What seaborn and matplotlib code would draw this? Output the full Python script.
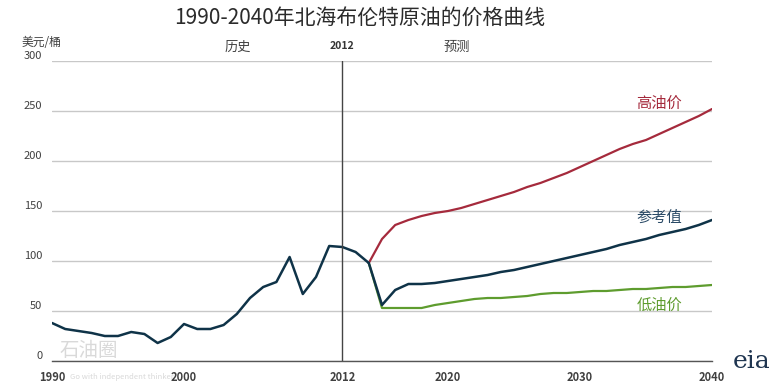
import numpy as np
import pandas as pd
import matplotlib
matplotlib.use("Agg")
import matplotlib.pyplot as plt
import seaborn as sns

# ---- data (2012 dollars / barrel) ----
hist_years = list(range(1990, 2015))
hist_vals = [38, 32, 30, 28, 25, 25, 29, 27, 18, 24, 37, 32, 32, 36, 47, 63, 74, 79,
             104, 67, 84, 115, 114, 109, 98]

proj_years = list(range(2014, 2041))
ref_vals = [98, 56, 71, 77, 77, 78, 80, 82, 84, 86, 89, 91, 94, 97, 100, 103, 106, 109,
            112, 116, 119, 122, 126, 129, 132, 136, 141]
high_vals = [98, 122, 136, 141, 145, 148, 150, 153, 157, 161, 165, 169, 174, 178, 183,
             188, 194, 200, 206, 212, 217, 221, 227, 233, 239, 245, 252]
low_vals = [98, 53, 53, 53, 53, 56, 58, 60, 62, 63, 63, 64, 65, 67, 68, 68, 69, 70, 70,
            71, 72, 72, 73, 74, 74, 75, 76]

x_ticks = [1990, 2000, 2012, 2020, 2030, 2040]
y_ticks = [0, 50, 100, 150, 200, 250, 300]

C_REF = "#0f3348"
C_HIGH = "#a52a3c"
C_LOW = "#5e9c2e"
C_TXT = "#404040"

df = pd.concat([
    pd.DataFrame({"year": hist_years, "price": hist_vals, "case": "history"}),
    pd.DataFrame({"year": proj_years, "price": ref_vals, "case": "ref"}),
    pd.DataFrame({"year": proj_years, "price": high_vals, "case": "high"}),
    pd.DataFrame({"year": proj_years, "price": low_vals, "case": "low"}),
])

sns.set_style("white")
plt.rcParams["font.family"] = ["Noto Sans CJK SC", "DejaVu Sans"]

fig = plt.figure(figsize=(7.75, 3.88), dpi=100)
ax = fig.add_axes([52 / 775, 1 - 361 / 388, 660 / 775, 300 / 388])

sns.lineplot(data=df[df.case == "high"], x="year", y="price", color=C_HIGH, lw=1.6, ax=ax)
sns.lineplot(data=df[df.case == "low"], x="year", y="price", color=C_LOW, lw=1.6, ax=ax)
sns.lineplot(data=df[df.case == "ref"], x="year", y="price", color=C_REF, lw=1.8, ax=ax)
sns.lineplot(data=df[df.case == "history"], x="year", y="price", color=C_REF, lw=1.8, ax=ax)

ax.set_xlim(1990, 2040)
ax.set_ylim(0, 300)
ax.set_xlabel("")
ax.set_ylabel("")
for s in ["top", "right", "left"]:
    ax.spines[s].set_visible(False)
ax.spines["bottom"].set_color("#555555")
ax.spines["bottom"].set_linewidth(1.0)

ax.set_yticks(y_ticks)
ax.set_yticklabels([str(v) for v in y_ticks], fontsize=8, color=C_TXT)
for lab in ax.get_yticklabels():
    lab.set_verticalalignment("bottom")
ax.tick_params(axis="y", length=0, pad=7)
ax.yaxis.grid(True, color="#c8c8c8", lw=1.0)
ax.set_xticks(x_ticks)
ax.set_xticklabels([str(v) for v in x_ticks], fontsize=8, fontweight="bold", color=C_TXT)
ax.tick_params(axis="x", length=4, color="#555555", pad=3)

ax.axvline(2012, color="#444444", lw=1.0)

fig.text(360 / 775, 1 - 18 / 388, "1990-2040年北海布伦特原油的价格曲线",
         ha="center", va="center", fontsize=15, color="#2b2b2b")
fig.text(22 / 775, 1 - 42 / 388, "美元/桶", ha="left", va="center", fontsize=8.5, color=C_TXT)
fig.text(238 / 775, 1 - 47 / 388, "历史", ha="center", va="center", fontsize=9.5, color=C_TXT)
fig.text(342 / 775, 1 - 46 / 388, "2012", ha="center", va="center", fontsize=7.5,
         fontweight="bold", color="#333333")
fig.text(457 / 775, 1 - 47 / 388, "预测", ha="center", va="center", fontsize=9.5, color=C_TXT)

ax.text(2036, 258, "高油价", ha="center", va="center", fontsize=11, color=C_HIGH)
ax.text(2036, 144, "参考值", ha="center", va="center", fontsize=11, color="#2a4a66")
ax.text(2036, 56, "低油价", ha="center", va="center", fontsize=11, color=C_LOW)

# watermark and logo
fig.text(60 / 775, 1 - 350 / 388, "石油圈", ha="left", va="center", fontsize=14,
         color="#d0d0d0", alpha=0.8)
fig.text(70 / 775, 1 - 377 / 388, "Go with independent thinker", ha="left", va="center",
         fontsize=5.5, color="#cfcfcf", alpha=0.8)
fig.text(752 / 775, 1 - 362 / 388, "eia", ha="center", va="center", fontsize=18,
         family="DejaVu Serif", color="#1f3550")

fig.savefig("out.png", dpi=100)
